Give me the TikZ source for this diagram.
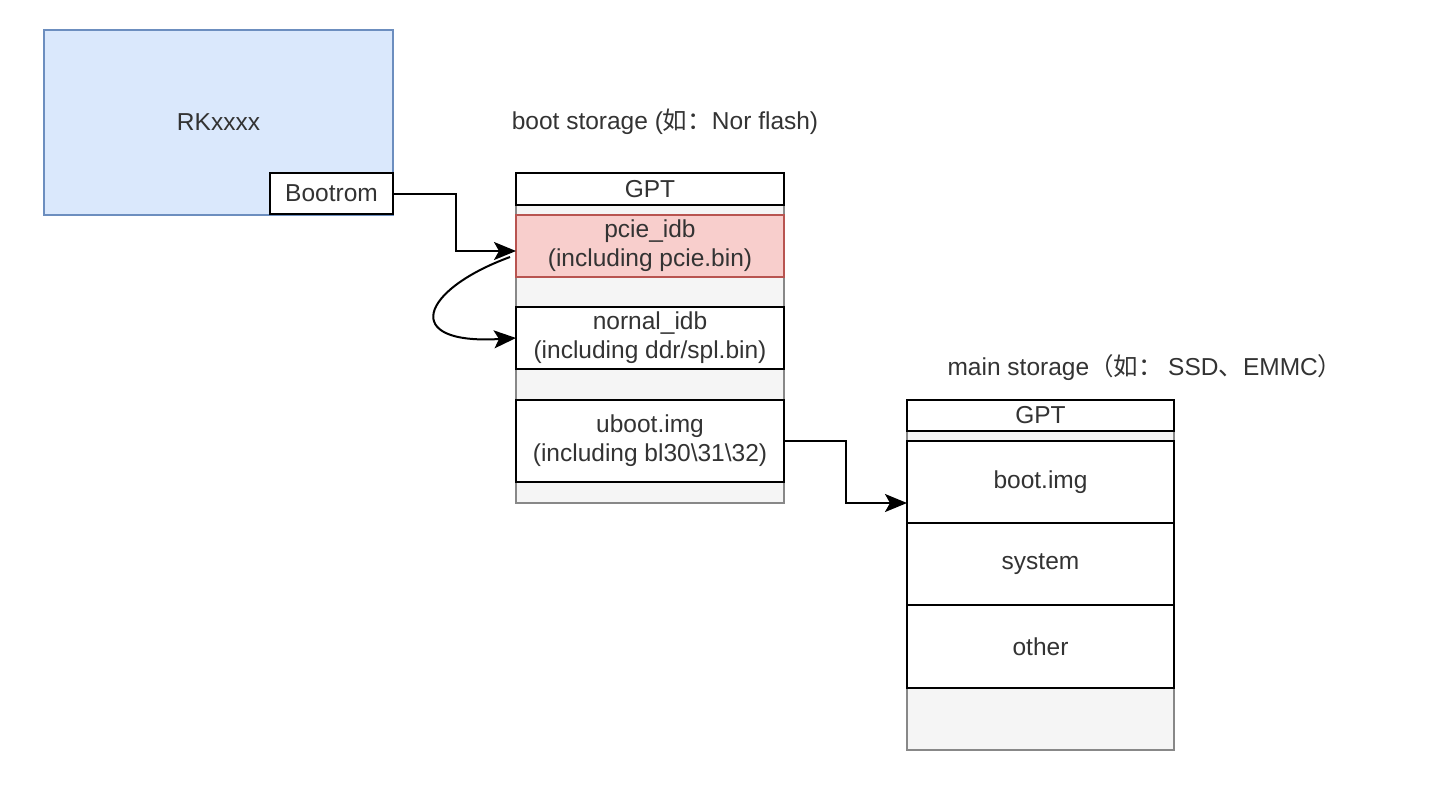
\documentclass[tikz,border=0pt]{standalone}
\usepackage{fontspec}
\setmainfont{Liberation Sans}
\newfontfamily\cjk{Noto Sans CJK SC}
\usetikzlibrary{arrows.meta,calc}
\definecolor{bluefill}{HTML}{DAE8FC}
\definecolor{bluestroke}{HTML}{6C8EBF}
\definecolor{redfill}{HTML}{F8CECC}
\definecolor{redstroke}{HTML}{B85450}
\definecolor{grayfill}{HTML}{F5F5F5}
\definecolor{graystroke}{HTML}{888888}
\definecolor{txt}{HTML}{333333}
\tikzset{
  partbox/.style={draw=black, line width=1.8pt, fill=white, rectangle},
  outerbox/.style={draw=graystroke, line width=1.8pt, fill=grayfill, rectangle},
  connline/.style={draw=black, line width=2pt, -{Stealth[length=22pt,width=18pt,inset=5pt]}}
}
\begin{document}
\begin{tikzpicture}[x=1pt,y=-1pt,
  every node/.style={font=\fontsize{24.5}{29}\selectfont, text=txt, inner sep=0pt, outer sep=0pt, align=center}
]
\useasboundingbox (0,0) rectangle (1440,796);
% chip
\node[draw=bluestroke, fill=bluefill, line width=1.4pt, minimum width=349pt, minimum height=185pt] (rk) at (218.5,122.5) {};
\node at (218.5,122) {RKxxxx};
\node[partbox, minimum width=123pt, minimum height=41pt] (bootrom) at (331.5,193.5) {Bootrom};
% boot storage
\node (bslabel) at (665,122) {boot storage ({\cjk 如：}Nor flash)};
\node[outerbox, minimum width=268pt, minimum height=330pt] (bs) at (650,338) {};
\node[partbox, minimum width=268pt, minimum height=32pt] (gpt1) at (650,189) {GPT};
\node[partbox, draw=redstroke, fill=redfill, minimum width=268pt, minimum height=62pt] (pcie) at (650,246) {pcie\_idb\\(including pcie.bin)};
\node[partbox, minimum width=268pt, minimum height=62pt] (nornal) at (650,338) {nornal\_idb\\(including ddr/spl.bin)};
\node[partbox, minimum width=268pt, minimum height=82pt] (uboot) at (650,441) {uboot.img\\(including bl30\textbackslash 31\textbackslash 32)};
% main storage
\node (mslabel) at (1145,368) {main storage{\cjk （如： }SSD{\cjk 、}EMMC{\cjk ）}};
\node[outerbox, minimum width=267pt, minimum height=350pt] (ms) at (1040.5,575) {};
\node[partbox, minimum width=267pt, minimum height=31pt] (gpt2) at (1040.5,415.5) {GPT};
\node[partbox, minimum width=267pt, minimum height=82pt] (bootimg) at (1040.5,482) {boot.img};
\node[partbox, minimum width=267pt, minimum height=82pt] (system) at (1040.5,564) {system};
\node[partbox, minimum width=267pt, minimum height=83pt] (other) at (1040.5,646.5) {other};
% connectors
\draw[connline] (bootrom.east) -- ++(63,0) |- ([yshift=-5pt]pcie.west);
\draw[connline] ([xshift=-6pt,yshift=-11pt]pcie.west) .. controls +(-90,33) and +(-116,7) .. (nornal.west);
\draw[connline] (uboot.east) -- ++(62,0) |- ([yshift=-21pt]bootimg.west);
\end{tikzpicture}
\end{document}
